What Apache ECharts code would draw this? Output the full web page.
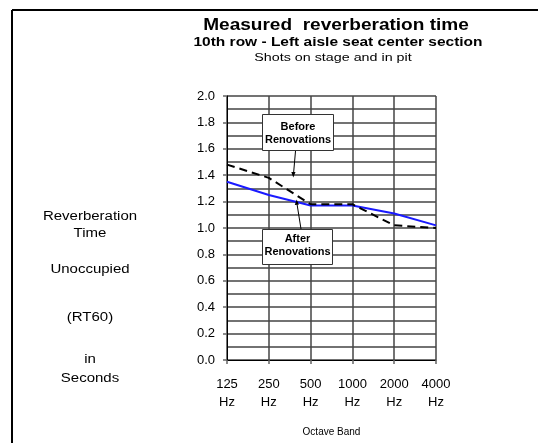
<!DOCTYPE html>
<html>
<head>
<meta charset="utf-8">
<script src="https://cdn.jsdelivr.net/npm/echarts@6/dist/echarts.min.js"></script>
<style>
  html, body { margin: 0; padding: 0; background: #fff; }
  #main { width: 538px; height: 443px; }
</style>
</head>
<body>
<div id="main"></div>
<script>
// octave bands
var bands = ['125', '250', '500', '1000', '2000', '4000'];
// RT60 in seconds
var beforeRT = [1.48, 1.38, 1.18, 1.18, 1.02, 1.00];
var afterRT = [1.35, 1.25, 1.17, 1.17, 1.11, 1.02];

var font = 'Liberation Sans, Arial, sans-serif';

// the original is a bit stretched sideways, so free text gets a scaleX
// y is the top of the text line
function label(txt, x, y, size, weight, sx) {
    return {
        type: 'text', x: x, y: y, scaleX: sx, z: 21,
        style: {
            x: 0, y: 0, text: txt, textAlign: 'center', textVerticalAlign: 'top',
            font: weight + ' ' + size + 'px ' + font, fill: '#000', lineHeight: size
        }
    };
}

var chart = echarts.init(document.getElementById('main'));

var option = {
    backgroundColor: '#fff',
    animation: false,
    textStyle: { fontFamily: font },
    grid: { left: 227, right: 102, top: 96, bottom: 83 },
    xAxis: {
        type: 'category',
        data: bands,
        boundaryGap: false,
        axisLine: { lineStyle: { color: '#000', width: 1 } },
        axisTick: { show: true, length: 4, lineStyle: { color: '#666', width: 1.5 } },
        axisLabel: {
            color: '#000', fontSize: 13, margin: 15, lineHeight: 18,
            fontFamily: font,
            formatter: function (v) { return v + '\nHz'; }
        },
        splitLine: { show: true, lineStyle: { color: '#444', width: 1.5 } },
        name: 'Octave Band',
        nameLocation: 'middle',
        nameGap: 67,
        nameTextStyle: { fontSize: 10, color: '#000', fontFamily: font }
    },
    yAxis: {
        type: 'value',
        min: 0, max: 2, interval: 0.2,
        axisLine: { show: true, lineStyle: { color: '#000' } },
        axisTick: { show: true, length: 4, lineStyle: { color: '#666', width: 1.5 } },
        axisLabel: {
            color: '#000', fontSize: 13, margin: 12, fontFamily: font,
            formatter: function (v) { return v.toFixed(1); }
        },
        splitLine: { show: true, lineStyle: { color: '#444', width: 1.5 } },
        minorTick: { show: false, splitNumber: 2 },
        minorSplitLine: { show: true, lineStyle: { color: '#444', width: 1.5 } }
    },
    series: [
        {
            name: 'After Renovations',
            type: 'line',
            data: afterRT,
            symbol: 'none',
            lineStyle: { color: '#1a1aff', width: 2 }
        },
        {
            name: 'Before Renovations',
            type: 'line',
            data: beforeRT,
            symbol: 'none',
            lineStyle: { color: '#000', width: 2, type: [8, 5] }
        }
    ],
    graphic: [
        // frame lines top and left
        { type: 'line', shape: { x1: 12, y1: 10, x2: 538, y2: 10 }, style: { stroke: '#000', lineWidth: 2 } },
        { type: 'line', shape: { x1: 12, y1: 10, x2: 12, y2: 443 }, style: { stroke: '#000', lineWidth: 2 } },
        // titles
        label('Measured  reverberation time', 336, 17.5, 16, 'bold', 1.19),
        label('10th row - Left aisle seat center section', 338, 37, 12, 'bold', 1.29),
        label('Shots on stage and in pit', 333, 52.5, 11, 'normal', 1.3),
        // left side description
        label('Reverberation', 90, 211, 12, 'normal', 1.25),
        label('Time', 90, 228, 12, 'normal', 1.25),
        label('Unoccupied', 90, 264, 12, 'normal', 1.25),
        label('(RT60)', 90, 312, 12, 'normal', 1.25),
        label('in', 90, 354, 12, 'normal', 1.25),
        label('Seconds', 90, 373, 12, 'normal', 1.25),
        // annotation arrows
        { type: 'line', z: 20, shape: { x1: 295.5, y1: 151, x2: 293.5, y2: 174 }, style: { stroke: '#000', lineWidth: 1 } },
        { type: 'polygon', z: 20, shape: { points: [[291.3, 172], [295.5, 172], [293.3, 177.5]] }, style: { fill: '#000' } },
        { type: 'line', z: 20, shape: { x1: 301, y1: 229, x2: 297, y2: 204 }, style: { stroke: '#000', lineWidth: 1 } },
        { type: 'polygon', z: 20, shape: { points: [[294.8, 205], [299, 204.5], [296.6, 199.5]] }, style: { fill: '#000' } },
        // annotation boxes
        {
            type: 'rect', z: 20,
            shape: { x: 262.5, y: 114.5, width: 71, height: 36 },
            style: { fill: '#fff', stroke: '#333', lineWidth: 1 }
        },
        label('Before', 298, 122, 10, 'bold', 1.1),
        label('Renovations', 298, 135, 10, 'bold', 1.1),
        {
            type: 'rect', z: 20,
            shape: { x: 262.5, y: 229.5, width: 70, height: 35 },
            style: { fill: '#fff', stroke: '#333', lineWidth: 1 }
        },
        label('After', 297.5, 234, 10, 'bold', 1.1),
        label('Renovations', 297.5, 247, 10, 'bold', 1.1)
    ]
};

chart.setOption(option);
</script>
</body>
</html>
